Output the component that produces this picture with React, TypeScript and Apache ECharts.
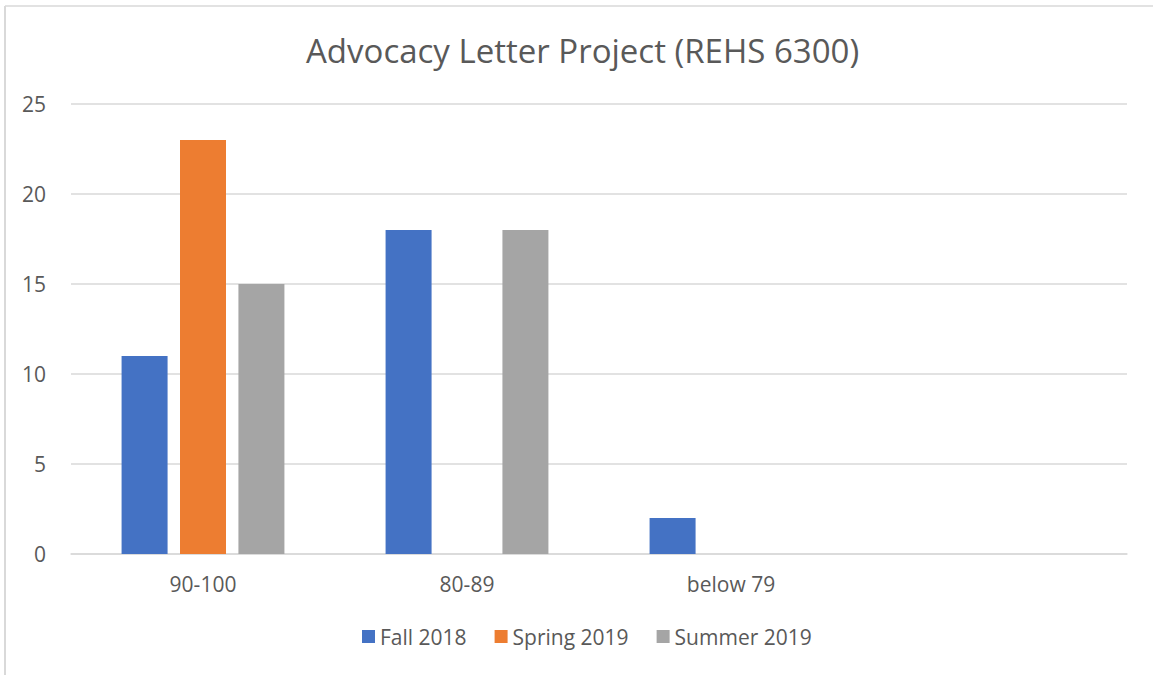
import React, { useEffect, useRef } from "react";
import * as echarts from "echarts";

const categories = ["90-100", "80-89", "below 79", ""];
const seriesNames = ["Fall 2018", "Spring 2019", "Summer 2019"];
const fall2018 = [11, 18, 2, null];
const spring2019 = [23, null, null, null];
const summer2019 = [15, 18, null, null];
const yTicks = { min: 0, max: 25, interval: 5 };
const colors = ["#4472C4", "#ED7D31", "#A5A5A5"];

const FONT = "'Open Sans', 'Noto Sans', sans-serif";

export default function App() {
  const ref = useRef<HTMLDivElement>(null);
  useEffect(() => {
    if (!ref.current) return;
    const chart = echarts.init(ref.current, undefined, { renderer: "svg" });
    const values = [fall2018, spring2019, summer2019];
    chart.setOption({
      animation: false,
      backgroundColor: "#ffffff",
      textStyle: { fontFamily: FONT },
      title: {
        text: "Advocacy Letter Project (REHS 6300)",
        left: 301,
        top: 29,
        textStyle: { fontFamily: FONT, fontSize: 33, fontWeight: "normal", color: "#595959" },
      },
      legend: {
        data: seriesNames,
        top: 621,
        left: 357,
        itemWidth: 13,
        itemHeight: 13,
        itemGap: 28,
        icon: "rect",
        textStyle: { fontFamily: FONT, fontSize: 21, color: "#595959" },
      },
      grid: { left: 71, right: 26, top: 104, bottom: 121, containLabel: false },
      xAxis: {
        type: "category",
        data: categories,
        axisLine: { lineStyle: { color: "#d9d9d9", width: 1.5 } },
        axisTick: { show: false },
        axisLabel: { fontFamily: FONT, fontSize: 21, color: "#595959", margin: 19 },
      },
      yAxis: {
        type: "value",
        min: yTicks.min,
        max: yTicks.max,
        interval: yTicks.interval,
        axisLine: { show: false },
        axisTick: { show: false },
        splitLine: { lineStyle: { color: "#d9d9d9", width: 1.5 } },
        axisLabel: { fontFamily: FONT, fontSize: 21, color: "#595959", margin: 25 },
      },
      graphic: [
        { type: "line", shape: { x1: 5, y1: 6, x2: 1153, y2: 6 }, style: { stroke: "#d9d9d9", lineWidth: 1.5 } },
        { type: "line", shape: { x1: 5, y1: 6, x2: 5, y2: 675 }, style: { stroke: "#d9d9d9", lineWidth: 2 } },
      ],
      series: seriesNames.map((name, i) => ({
        name,
        type: "bar",
        data: values[i],
        barWidth: 46,
        barGap: "27%",
        itemStyle: { color: colors[i] },
      })),
    });
    return () => chart.dispose();
  }, []);
  return (
    <div
      ref={ref}
      style={{ position: "fixed", left: 0, top: 0, width: 1153, height: 675 }}
    />
  );
}
